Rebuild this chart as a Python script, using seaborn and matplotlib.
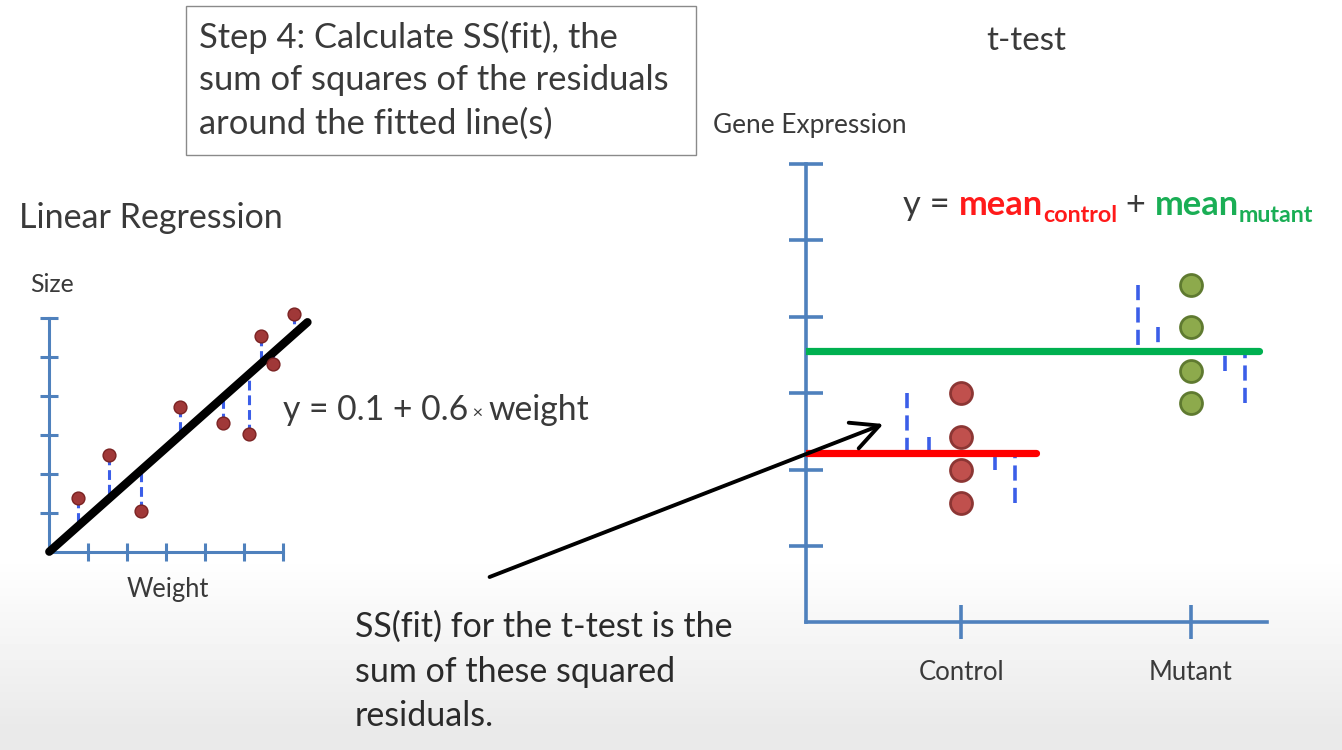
import numpy as np
import matplotlib
matplotlib.use("Agg")
import matplotlib.pyplot as plt
import seaborn as sns
from matplotlib.patches import Rectangle, FancyArrowPatch
from matplotlib import font_manager as fm

# ---------------- data ----------------
weight = [0.74, 1.54, 2.34, 3.35, 4.46, 5.11, 5.42, 5.74, 6.28]
size = [1.39, 2.48, 1.05, 3.72, 3.31, 3.02, 5.54, 4.83, 6.11]
fit_intercept = 0.0
fit_slope = 0.89
fit_x_max = 6.62
left_ticks = [1, 2, 3, 4, 5, 6]

control_expr = [3.00, 2.43, 1.99, 1.56]
mutant_expr = [4.42, 3.87, 3.29, 2.87]
control_mean = 2.21
mutant_mean = 3.55
group_labels = ["Control", "Mutant"]
group_pos = [1.0, 2.48]
control_resid_x = [0.654, 0.79, 1.216, 1.345]
mutant_resid_x = [2.14, 2.27, 2.70, 2.83]
control_line_end = 1.48
mutant_line_end = 2.92
right_ticks = [1, 2, 3, 4, 5, 6]

# ---------------- style ----------------
sns.set_theme(style="white")
names = {f.name for f in fm.fontManager.ttflist}
main_font = "Lato" if "Lato" in names else "DejaVu Sans"
plt.rcParams["font.family"] = [main_font, "DejaVu Sans"]

W, H = 1342, 750
fig = plt.figure(figsize=(W / 100, H / 100), dpi=100)
fig.patch.set_facecolor("white")
renderer = fig.canvas.get_renderer()

def fx(px):
    return px / W

def fy(py):
    return 1 - py / H

AXC = "#4F81BD"
RES = "#3B5EE8"
TXT = "#3A3A3A"

# background gradient
bg = fig.add_axes([0, 0, 1, 1], zorder=-10)
rows = np.arange(H)
vals = np.where(rows < 555, 1.0, 1.0 - 0.085 * np.clip((rows - 555) / 175.0, 0, 1))
grad = np.repeat(vals[:, None], 4, axis=1)
bg.imshow(grad, aspect="auto", extent=[0, 1, 0, 1], cmap="gray", vmin=0, vmax=1)
bg.set_axis_off()

# ---------------- left: linear regression ----------------
axL = fig.add_axes([fx(49.3), fy(551.7), (283.3 - 49.3) / W, (551.7 - 318) / H])
axL.patch.set_alpha(0)
axL.set_xlim(0, 6)
axL.set_ylim(0, 6)
for s in ["top", "right"]:
    axL.spines[s].set_visible(False)
for s in ["left", "bottom"]:
    axL.spines[s].set_color(AXC)
    axL.spines[s].set_linewidth(2.2)
axL.set_xticks(left_ticks)
axL.set_yticks(left_ticks)
axL.tick_params(direction="inout", length=13, width=2.2, color=AXC,
                labelleft=False, labelbottom=False, left=True, bottom=True)

fit_y_at = [fit_intercept + fit_slope * w for w in weight]
for w, s_, f in zip(weight, size, fit_y_at):
    axL.plot([w, w], [s_, f], color=RES, lw=2.2, dashes=(3.2, 1.6), clip_on=False, zorder=2)
sns.lineplot(x=[0, fit_x_max], y=[fit_intercept, fit_intercept + fit_slope * fit_x_max],
             ax=axL, color="black", lw=6, clip_on=False, zorder=3)
sns.scatterplot(x=weight, y=size, ax=axL, s=85, color="#A03838", edgecolor="#7A2222",
                linewidth=1.0, clip_on=False, zorder=4)
axL.set_xlabel("")
axL.set_ylabel("")

# ---------------- right: t-test ----------------
axR = fig.add_axes([fx(806), fy(622.3), (1266.7 - 806) / W, (622.3 - 164) / H])
axR.patch.set_alpha(0)
axR.set_xlim(0, 2.97)
axR.set_ylim(0, 6)
for s in ["top", "right"]:
    axR.spines[s].set_visible(False)
for s in ["left", "bottom"]:
    axR.spines[s].set_color(AXC)
    axR.spines[s].set_linewidth(2.6)
axR.set_yticks(right_ticks)
axR.set_xticks(group_pos)
axR.set_xticklabels(group_labels)
axR.tick_params(axis="y", direction="inout", length=25, width=2.6, color=AXC,
                labelleft=False, left=True)
axR.tick_params(axis="x", direction="inout", length=25, width=2.6, color=AXC,
                labelsize=18.5, labelcolor=TXT, pad=15, bottom=True)

sns.lineplot(x=[0, control_line_end], y=[control_mean, control_mean], ax=axR,
             color="#FF0000", lw=5.2, zorder=3)
sns.lineplot(x=[0, mutant_line_end], y=[mutant_mean, mutant_mean], ax=axR,
             color="#00B050", lw=5.2, zorder=3)
for rx, v in zip(control_resid_x, control_expr):
    axR.plot([rx, rx], [v, control_mean], color=RES, lw=2.6, dashes=(4.2, 2.0), zorder=2)
for rx, v in zip(mutant_resid_x, mutant_expr):
    axR.plot([rx, rx], [v, mutant_mean], color=RES, lw=2.6, dashes=(4.2, 2.0), zorder=2)
sns.scatterplot(x=[group_pos[0]] * len(control_expr), y=control_expr, ax=axR, s=250,
                color="#C0504D", edgecolor="#8C3634", linewidth=2.0, zorder=4)
sns.scatterplot(x=[group_pos[1]] * len(mutant_expr), y=mutant_expr, ax=axR, s=250,
                color="#8DAA4C", edgecolor="#5F7A30", linewidth=2.0, zorder=4)
axR.set_xlabel("")
axR.set_ylabel("")

# ---------------- texts ----------------
def fit_text(x, y, s, target_w, fs0=20, **kw):
    t = fig.text(x, y, s, fontsize=fs0, **kw)
    w = t.get_window_extent(renderer).width
    t.set_fontsize(fs0 * target_w / w)
    return t

fig.add_artist(Rectangle((fx(186), fy(155)), (696 - 186) / W, (155 - 6) / H,
                         transform=fig.transFigure, facecolor="white",
                         edgecolor="#8A8A8A", lw=1.0, zorder=1))
box_lines = ["Step 4: Calculate SS(fit), the",
             "sum of squares of the residuals",
             "around the fitted line(s)"]
t = fit_text(fx(199), fy(36), box_lines[1], 471, color=TXT, va="center")
box_fs = t.get_fontsize()
t.remove()
for i, line in enumerate(box_lines):
    fig.text(fx(199), fy(37 + 43.3 * i), line, fontsize=box_fs, color=TXT,
             va="center", ha="left", zorder=5)

fit_text(fx(1026), fy(41), "t-test", 80, color=TXT, ha="center", va="center")
fit_text(fx(713), fy(125), "Gene Expression", 194, color=TXT, ha="left", va="center")
fit_text(fx(19), fy(218), "Linear Regression", 264, color=TXT, ha="left", va="center")
fit_text(fx(30), fy(284), "Size", 44, color=TXT, ha="left", va="center")
fit_text(fx(127), fy(589), "Weight", 83, color=TXT, ha="left", va="center")

def chain(pieces, x0, base, target_w):
    # first pass to measure total width, second to place scaled
    def place(scale):
        x = x0
        arts = []
        for txt, fs, col, fw, dy in pieces:
            a = fig.text(x, fy(base + dy * scale), txt, fontsize=fs * scale, color=col,
                         fontweight=fw, ha="left", va="baseline", zorder=5)
            arts.append(a)
            x = a.get_window_extent(renderer).x1 / W
        return arts, (x - x0) * W
    arts, w = place(1.0)
    for a in arts:
        a.remove()
    place(target_w / w)

chain([("y = ", 20, TXT, "normal", 0),
       ("mean", 20, "#FF1A1A", "bold", 0),
       ("control", 13.5, "#FF1A1A", "bold", 6),
       (" + ", 20, TXT, "normal", 0),
       ("mean", 20, "#1AAE55", "bold", 0),
       ("mutant", 13.5, "#1AAE55", "bold", 6)], fx(903), 215, 410)

chain([("y = 0.1 + 0.6", 20.5, TXT, "normal", 0),
       (" \u00d7 ", 11, TXT, "normal", -1.5),
       ("weight", 20.5, TXT, "normal", 0)], fx(283), 420, 307)

bottom_lines = ["SS(fit) for the t-test is the",
                "sum of these squared",
                "residuals."]
t = fit_text(fx(355), fy(627), bottom_lines[0], 378, color="#2A2A2A", va="center")
bfs = t.get_fontsize()
t.remove()
for i, line in enumerate(bottom_lines):
    fig.text(fx(355), fy(627 + 44.5 * i), line, fontsize=bfs, color="#2A2A2A",
             ha="left", va="center", zorder=5)

# arrow
fig.add_artist(FancyArrowPatch((fx(487), fy(578)), (fx(886), fy(423)),
                               transform=fig.transFigure,
                               arrowstyle="->,head_length=0.9,head_width=0.45",
                               mutation_scale=22, lw=2.8, color="black", zorder=6))

fig.savefig("out.png", dpi=100)
